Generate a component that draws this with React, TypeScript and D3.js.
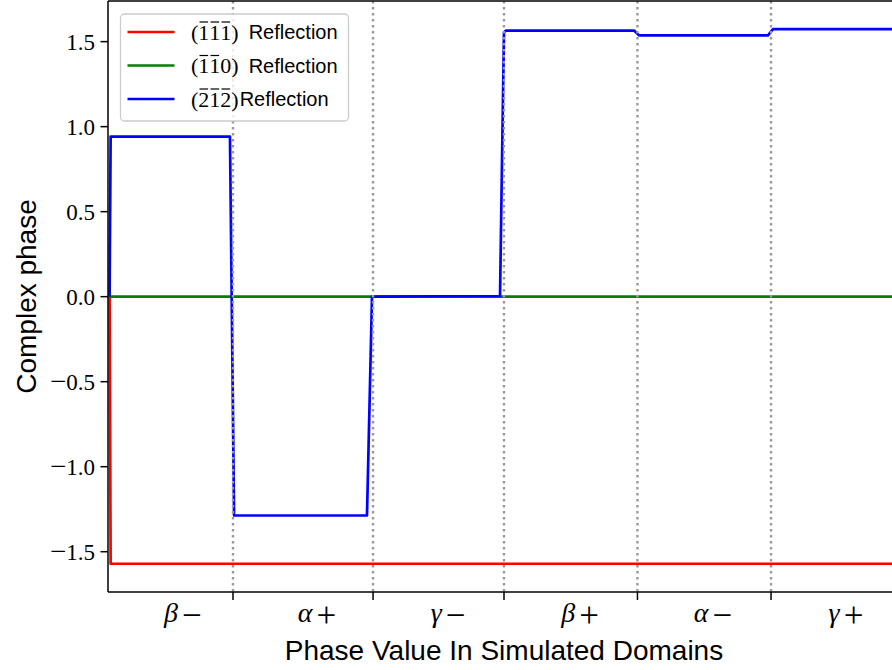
import React from "react";
import * as d3 from "d3";

// ---- data ----
const xBoundaries = [0.947, 2.008, 3.0, 4.011, 5.023];
const xLabelPos = [0.568, 1.583, 2.576, 3.576, 4.583, 5.591];
const xLabelGreek = ["β", "α", "γ", "β", "α", "γ"];
const xLabelSign = ["−", "+", "−", "+", "−", "+"];
const yTicks = [-1.5, -1.0, -0.5, 0.0, 0.5, 1.0, 1.5];

const redX = [0.012, 0.02, 6.0];
const redY = [0, -1.5708, -1.5708];
const greenX = [0.012, 6.0];
const greenY = [0, 0];
const blueX = [0.012, 0.02, 0.924, 0.955, 1.962, 2.0, 2.97, 2.985, 3.0, 3.015, 3.985, 4.023, 5.0, 5.038, 6.0];
const blueY = [0, 0.941, 0.941, -1.287, -1.287, 0.0, 0.004, 0.8, 1.555, 1.565, 1.565, 1.537, 1.537, 1.574, 1.574];

const seriesDigits = [["1", "1", "1"], ["1", "1", "0"], ["2", "1", "2"]];
const seriesBars = [[true, true, true], [true, true, false], [true, true, true]];
const seriesSpaced = [true, true, false];
const seriesColors = ["#ff0000", "#008000", "#0000ff"];

const W = 892;
const H = 670;
const left = 108;
const right = 900;
const top = 1;
const bottom = 592;

export default function App() {
  const x = d3.scaleLinear().domain([0, 6]).range([left, right]);
  const y = d3.scaleLinear().domain([-1.737, 1.739]).range([bottom, top]);
  const line = d3
    .line<[number, number]>()
    .x((d) => x(d[0]))
    .y((d) => y(d[1]));
  const series = [
    { xs: redX, ys: redY, c: seriesColors[0] },
    { xs: greenX, ys: greenY, c: seriesColors[1] },
    { xs: blueX, ys: blueY, c: seriesColors[2] },
  ];
  const serif = "'Liberation Serif', 'DejaVu Serif', serif";
  const sans = "'Liberation Sans', Arial, sans-serif";

  const mfs = 22; // math font size in legend
  const parenW = 0.333 * mfs;
  const digitW = 0.5 * mfs;
  const legX = 191;

  return (
    <svg
      width={W}
      height={H}
      style={{ position: "absolute", left: 0, top: 0, background: "#fff" }}
    >
      <defs>
        <clipPath id="plotclip">
          <rect x={left} y={top} width={right - left} height={bottom - top} />
        </clipPath>
      </defs>
      <rect x={0} y={0} width={W} height={H} fill="#fff" />
      <g clipPath="url(#plotclip)">
        {series.map((s, i) => (
          <path
            key={i}
            d={line(s.xs.map((v, j) => [v, s.ys[j]] as [number, number])) || ""}
            fill="none"
            stroke={s.c}
            strokeWidth={2.7}
            strokeLinejoin="round"
          />
        ))}
        {xBoundaries.map((b, i) => (
          <line
            key={i}
            x1={x(b)}
            x2={x(b)}
            y1={top}
            y2={bottom}
            stroke="#999999"
            strokeWidth={2.4}
            strokeDasharray="2.4,3.6"
          />
        ))}
      </g>
      {/* spines */}
      <line x1={left} x2={left} y1={top} y2={bottom} stroke="#000" strokeWidth={1.5} />
      <line x1={left} x2={right} y1={bottom} y2={bottom} stroke="#000" strokeWidth={1.5} />
      <line x1={left} x2={right} y1={top} y2={top} stroke="#000" strokeWidth={1.5} />
      <line x1={right} x2={right} y1={top} y2={bottom} stroke="#000" strokeWidth={1.5} />
      {/* y ticks */}
      {yTicks.map((t, i) => (
        <g key={i}>
          <line x1={left - 7.5} x2={left} y1={y(t)} y2={y(t)} stroke="#000" strokeWidth={1.5} />
          <text
            x={left - 13}
            y={y(t) + 8}
            textAnchor="end"
            fontFamily={serif}
            fontSize={23}
            fill="#000"
          >
            {t < 0 ? (
              <>
                <tspan fontSize={29} dy={1.5}>−</tspan>
                <tspan dy={-1.5}>{Math.abs(t).toFixed(1)}</tspan>
              </>
            ) : (
              t.toFixed(1)
            )}
          </text>
        </g>
      ))}
      {/* x ticks */}
      {xBoundaries.map((b, i) => (
        <line key={i} x1={x(b)} x2={x(b)} y1={bottom} y2={bottom + 8} stroke="#000" strokeWidth={1.5} />
      ))}
      {xLabelPos.map((p, i) => (
        <text
          key={i}
          x={x(p)}
          y={622}
          textAnchor="middle"
          fontFamily={serif}
          fontSize={28}
          fill="#000"
        >
          <tspan fontStyle="italic">{xLabelGreek[i]}</tspan>
          <tspan dx={4} dy={5} fontSize={35}>{xLabelSign[i]}</tspan>
        </text>
      ))}
      {/* axis labels */}
      <text
        x={(left + right) / 2}
        y={660}
        textAnchor="middle"
        fontFamily={sans}
        fontSize={28}
        fill="#000"
      >
        Phase Value In Simulated Domains
      </text>
      <text
        transform={`translate(36, ${(top + bottom) / 2}) rotate(-90)`}
        textAnchor="middle"
        fontFamily={sans}
        fontSize={28}
        fill="#000"
      >
        Complex phase
      </text>
      {/* legend */}
      <g>
        <rect
          x={120.5}
          y={14}
          width={228}
          height={107}
          rx={4}
          fill="#ffffff"
          fillOpacity={0.8}
          stroke="#cccccc"
          strokeWidth={1.3}
        />
        {seriesDigits.map((nm, i) => {
          const ly = 32 + i * 33.5;
          const base = ly + 7.5;
          const closeX = legX + parenW + 3 * digitW;
          const reflX = seriesSpaced[i] ? closeX + parenW + 10 : closeX + parenW + 1;
          return (
            <g key={i}>
              <line x1={127.5} x2={174.5} y1={ly} y2={ly} stroke={seriesColors[i]} strokeWidth={2.7} />
              <text x={legX} y={base} fontFamily={serif} fontSize={mfs} fill="#000">
                (
              </text>
              {nm.map((d, j) => {
                const dxp = legX + parenW + j * digitW;
                return (
                  <g key={j}>
                    <text x={dxp} y={base} fontFamily={serif} fontSize={mfs} fill="#000">
                      {d}
                    </text>
                    {seriesBars[i][j] && (
                      <line
                        x1={dxp + 1.2}
                        x2={dxp + digitW - 1.2}
                        y1={base - 17.5}
                        y2={base - 17.5}
                        stroke="#000"
                        strokeWidth={1.2}
                      />
                    )}
                  </g>
                );
              })}
              <text x={closeX} y={base} fontFamily={serif} fontSize={mfs} fill="#000">
                )
              </text>
              <text x={reflX} y={base - 0.5} fontFamily={sans} fontSize={20} fill="#000">
                Reflection
              </text>
            </g>
          );
        })}
      </g>
    </svg>
  );
}
